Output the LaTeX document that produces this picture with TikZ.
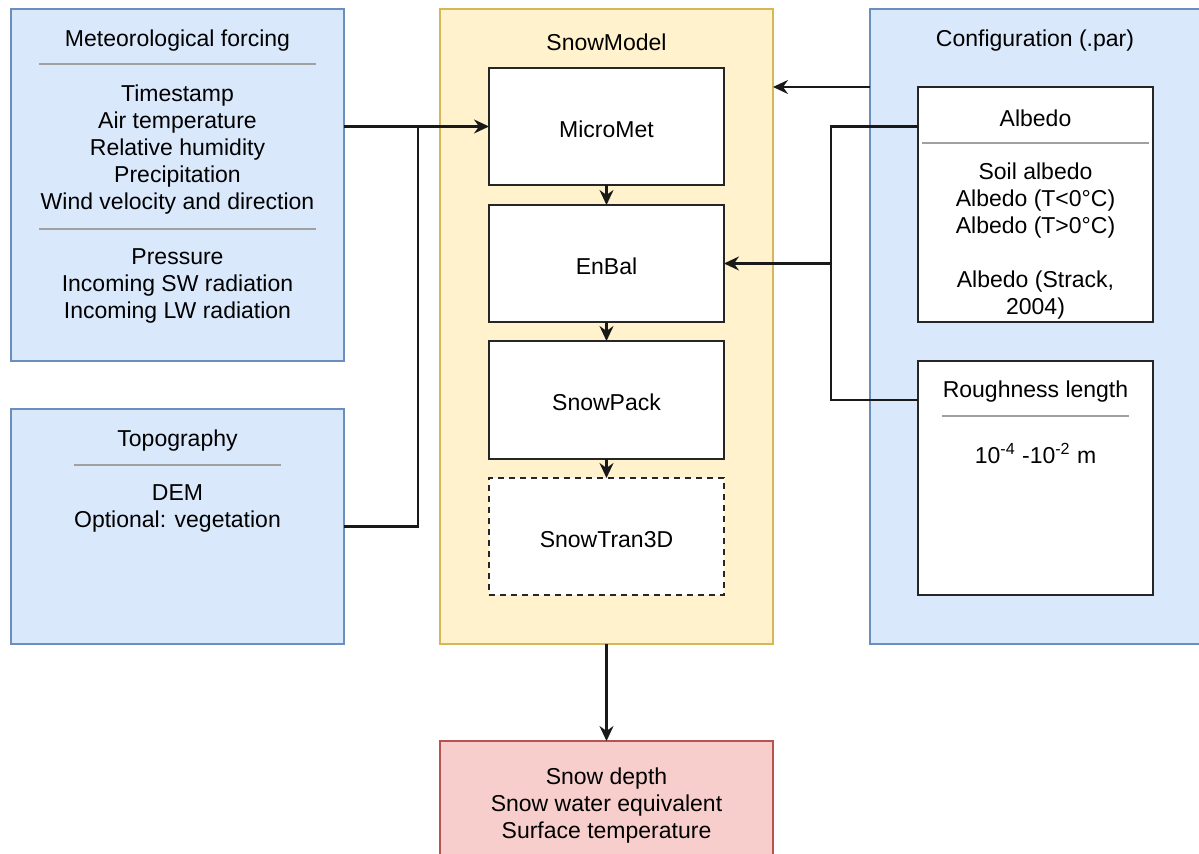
\documentclass[tikz,border=0pt]{standalone}
\usepackage{fontspec}
\setmainfont{Liberation Sans}
\usetikzlibrary{fit,arrows.meta}
\definecolor{bluef}{HTML}{DAE8FC}
\definecolor{blued}{HTML}{6C8EBF}
\definecolor{yelf}{HTML}{FFF2CC}
\definecolor{yeld}{HTML}{D6B656}
\definecolor{redf}{HTML}{F8CECC}
\definecolor{redd}{HTML}{B85450}
\definecolor{sepc}{HTML}{A0A0A0}
\begin{document}
\begin{tikzpicture}[x=0.5pt,y=-0.5pt,
  frame/.style={rectangle, inner sep=0pt, outer sep=0pt, line width=1.1pt},
  bluebox/.style={frame, draw=blued, fill=bluef},
  yelbox/.style={frame, draw=yeld, fill=yelf},
  redbox/.style={frame, draw=redd, fill=redf},
  whitebox/.style={frame, draw=black!85, fill=white},
  txt/.style={font=\fontsize{11.5}{13.5}\selectfont, align=center, inner sep=0pt, yshift=-1.3pt},
  sepline/.style={draw=sepc, line width=0.8pt},
  conn/.style={draw=black!90, line width=1.1pt},
  arr/.style={conn, -{Stealth[length=7.5pt,width=7pt,inset=2.5pt]}}
]
\useasboundingbox (0,0) rectangle (1199,854);

% outer boxes
\node[bluebox, fit={(11,9)(344,361)}] (met) {};
\node[bluebox, fit={(11,409)(344,644)}] (topo) {};
\node[yelbox, fit={(440,9)(773,644)}] (sm) {};
\node[bluebox, fit={(870,9)(1210,644)}] (cfg) {};
\node[redbox, fit={(440,741)(773,880)}] (out) {};

% meteorological forcing
\node[txt] (mettitle) at (177.5,38) {Meteorological forcing};
\draw[sepline] (39,64) -- (316,64);
\node[txt] (metlist) at (177.5,146.5) {Timestamp\\Air temperature\\Relative humidity\\Precipitation\\Wind velocity and direction};
\draw[sepline] (39,229) -- (316,229);
\node[txt] (metopt) at (177.5,283.5) {Pressure\\Incoming SW radiation\\Incoming LW radiation};

% topography
\node[txt] (topotitle) at (177.5,438) {Topography};
\draw[sepline] (74,465) -- (281,465);
\node[txt] (topolist) at (177.5,505.5) {DEM\\Optional: vegetation};

% SnowModel
\node[txt] (smtitle) at (606.5,40) {SnowModel};
\node[whitebox, fit={(489,68)(724,185)}] (mm) {};
\node[txt] at (mm.center) {MicroMet};
\node[whitebox, fit={(489,205)(724,322)}] (eb) {};
\node[txt] at (eb.center) {EnBal};
\node[whitebox, fit={(489,341)(724,459)}] (sp) {};
\node[txt] at (sp.center) {SnowPack};
\node[whitebox, dash pattern=on 3pt off 2.5pt, fit={(489,478)(724,595)}] (st) {};
\node[txt] at (st.center) {SnowTran3D};

% configuration
\node[txt] (cfgtitle) at (1035,38) {Configuration (.par)};
\node[whitebox, fit={(918,87)(1153,322)}] (alb) {};
\node[txt] (albtitle) at (1035.5,116) {Albedo};
\draw[sepline] (922,143) -- (1149,143);
\node[txt] (alblist) at (1035.5,238) {Soil albedo\\Albedo (T<0°C)\\Albedo (T>0°C)\\[13.5pt]Albedo (Strack,\\2004)};
\node[whitebox, fit={(918,361)(1153,595)}] (rl) {};
\node[txt] (rltitle) at (1035.5,389) {Roughness length};
\draw[sepline] (942,416) -- (1129,416);
\node[txt] (rlval) at (1035.5,451) {10\textsuperscript{-4} -10\textsuperscript{-2} m};

% output
\node[txt] (outlist) at (606.5,803) {Snow depth\\Snow water equivalent\\Surface temperature};

% connectors
\coordinate (j1) at (418,126.5);
\coordinate (j2) at (831,263.5);
\draw[arr] (mm.west -| met.east) -- (mm.west);
\draw[conn] (topo.east) -| (j1);
\draw[arr] (cfg.west |- alb.north) -- (sm.east |- alb.north);
\draw[arr] (alb.west |- mm.west) -| (j2) -- (eb.east);
\draw[conn] ([yshift=39pt]rl.west) -| (j2);
\draw[arr] (mm.south) -- (eb.north);
\draw[arr] (eb.south) -- (sp.north);
\draw[arr] (sp.south) -- (st.north);
\draw[arr] (sm.south) -- (out.north);
\end{tikzpicture}
\end{document}
